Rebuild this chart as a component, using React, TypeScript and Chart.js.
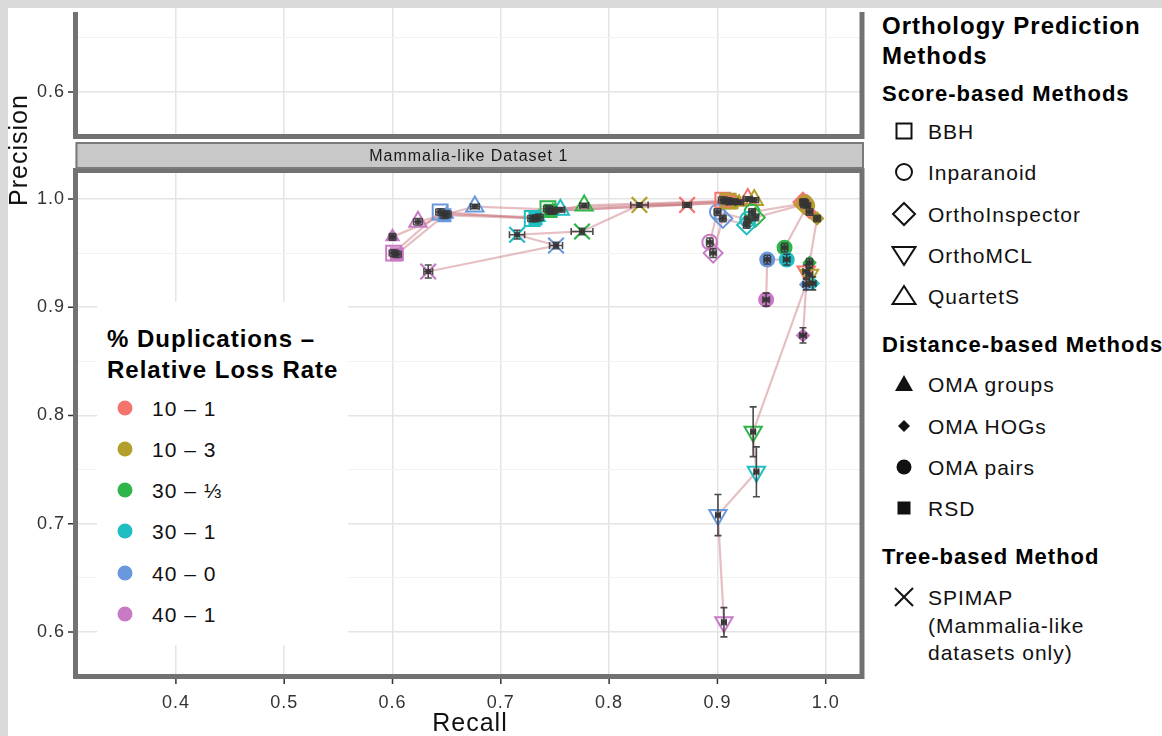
import React, { useEffect, useRef } from 'react';
import { Chart, registerables } from 'chart.js';

Chart.register(...registerables);

const FONT = '"Liberation Sans", Arial, Helvetica, sans-serif';

// ---------------- data ----------------
const conditions = ['10 – 1', '10 – 3', '30 – ⅓', '30 – 1', '40 – 0', '40 – 1'];
const conditionColors = ['#f2766e', '#b3a02c', '#2fb54a', '#1fbec3', '#6a98dc', '#c97ac4'];

const xTickValues = [0.4, 0.5, 0.6, 0.7, 0.8, 0.9, 1.0];
const yTickValues = [0.6, 0.65, 0.7, 0.75, 0.8, 0.85, 0.9, 0.95, 1.0];
const yTickValuesTop = [0.6, 0.65];

const recallBBH = [0.905, 0.91, 0.7435, 0.729, 0.644, 0.601];
const precisionBBH = [0.999, 0.998, 0.991, 0.982, 0.988, 0.95];
const recallErrBBH = [0.004, 0.004, 0.004, 0.004, 0.004, 0.004];
const precisionErrBBH = [0.003, 0.003, 0.003, 0.003, 0.003, 0.003];

const recallInparanoid = [0.98, 0.981, 0.932, 0.928, 0.9, 0.893];
const precisionInparanoid = [0.997, 0.996, 0.988, 0.981, 0.988, 0.96];
const recallErrInparanoid = [0.003, 0.003, 0.003, 0.003, 0.003, 0.003];
const precisionErrInparanoid = [0.003, 0.003, 0.003, 0.003, 0.003, 0.004];

const recallOrthoInspector = [0.979, 0.98, 0.935, 0.927, 0.905, 0.896];
const precisionOrthoInspector = [0.997, 0.995, 0.983, 0.976, 0.982, 0.95];
const recallErrOrthoInspector = [0.003, 0.003, 0.003, 0.003, 0.003, 0.003];
const precisionErrOrthoInspector = [0.003, 0.003, 0.003, 0.003, 0.003, 0.004];

const recallOrthoMCL = [0.982, 0.985, 0.933, 0.936, 0.9005, 0.906];
const precisionOrthoMCL = [0.933, 0.93, 0.785, 0.748, 0.708, 0.609];
const recallErrOrthoMCL = [0.003, 0.003, 0.002, 0.002, 0.002, 0.002];
const precisionErrOrthoMCL = [0.006, 0.006, 0.023, 0.023, 0.019, 0.0135];

const recallQuartetS = [0.928, 0.934, 0.777, 0.755, 0.676, 0.6235];
const precisionQuartetS = [1.0, 0.999, 0.994, 0.99, 0.993, 0.979];
const recallErrQuartetS = [0.004, 0.004, 0.004, 0.004, 0.004, 0.004];
const precisionErrQuartetS = [0.002, 0.002, 0.002, 0.002, 0.002, 0.003];

const recallOMAgroups = [0.915, 0.92, 0.748, 0.735, 0.65, 0.6];
const precisionOMAgroups = [0.998, 0.997, 0.989, 0.983, 0.986, 0.965];
const recallErrOMAgroups = [0.004, 0.004, 0.004, 0.004, 0.004, 0.003];
const precisionErrOMAgroups = [0.002, 0.002, 0.003, 0.003, 0.003, 0.003];

const recallOMAHOGs = [0.985, 0.992, 0.985, 0.988, 0.982, 0.979];
const precisionOMAHOGs = [0.988, 0.982, 0.941, 0.922, 0.921, 0.874];
const recallErrOMAHOGs = [0.003, 0.003, 0.003, 0.003, 0.003, 0.003];
const precisionErrOMAHOGs = [0.003, 0.003, 0.004, 0.006, 0.005, 0.007];

const recallOMApairs = [0.981, 0.983, 0.962, 0.964, 0.946, 0.945];
const precisionOMApairs = [0.996, 0.994, 0.955, 0.944, 0.944, 0.907];
const recallErrOMApairs = [0.003, 0.003, 0.003, 0.003, 0.003, 0.003];
const precisionErrOMApairs = [0.002, 0.002, 0.004, 0.005, 0.004, 0.006];

const recallRSD = [0.908, 0.913, 0.746, 0.732, 0.648, 0.604];
const precisionRSD = [0.998, 0.997, 0.989, 0.982, 0.985, 0.949];
const recallErrRSD = [0.004, 0.004, 0.004, 0.004, 0.004, 0.004];
const precisionErrRSD = [0.002, 0.002, 0.003, 0.003, 0.003, 0.003];

const recallSPIMAP = [0.872, 0.828, 0.775, 0.715, 0.751, 0.633];
const precisionSPIMAP = [0.9945, 0.9945, 0.97, 0.967, 0.957, 0.933];
const recallErrSPIMAP = [0.004, 0.008, 0.01, 0.007, 0.006, 0.004];
const precisionErrSPIMAP = [0.002, 0.002, 0.003, 0.004, 0.003, 0.006];

const methodTable = [
  { name: 'BBH', recall: recallBBH, precision: precisionBBH, rErr: recallErrBBH, pErr: precisionErrBBH },
  { name: 'Inparanoid', recall: recallInparanoid, precision: precisionInparanoid, rErr: recallErrInparanoid, pErr: precisionErrInparanoid },
  { name: 'OrthoInspector', recall: recallOrthoInspector, precision: precisionOrthoInspector, rErr: recallErrOrthoInspector, pErr: precisionErrOrthoInspector },
  { name: 'OrthoMCL', recall: recallOrthoMCL, precision: precisionOrthoMCL, rErr: recallErrOrthoMCL, pErr: precisionErrOrthoMCL },
  { name: 'QuartetS', recall: recallQuartetS, precision: precisionQuartetS, rErr: recallErrQuartetS, pErr: precisionErrQuartetS },
  { name: 'OMA groups', recall: recallOMAgroups, precision: precisionOMAgroups, rErr: recallErrOMAgroups, pErr: precisionErrOMAgroups },
  { name: 'OMA HOGs', recall: recallOMAHOGs, precision: precisionOMAHOGs, rErr: recallErrOMAHOGs, pErr: precisionErrOMAHOGs },
  { name: 'OMA pairs', recall: recallOMApairs, precision: precisionOMApairs, rErr: recallErrOMApairs, pErr: precisionErrOMApairs },
  { name: 'RSD', recall: recallRSD, precision: precisionRSD, rErr: recallErrRSD, pErr: precisionErrRSD },
  { name: 'SPIMAP', recall: recallSPIMAP, precision: precisionSPIMAP, rErr: recallErrSPIMAP, pErr: precisionErrSPIMAP },
];

// ---------------- styles ----------------
const methodStyle: Record<string, any> = {
  BBH: { pointStyle: 'rect', radius: 10.5, filled: false, rotation: 0 },
  Inparanoid: { pointStyle: 'circle', radius: 7.5, filled: false, rotation: 0 },
  OrthoInspector: { pointStyle: 'rectRot', radius: 9.5, filled: false, rotation: 0 },
  OrthoMCL: { pointStyle: 'triangle', radius: 10, filled: false, rotation: 180 },
  QuartetS: { pointStyle: 'triangle', radius: 10, filled: false, rotation: 0 },
  'OMA groups': { pointStyle: 'triangle', radius: 7, filled: true, rotation: 0 },
  'OMA HOGs': { pointStyle: 'rectRot', radius: 6, filled: true, rotation: 0 },
  'OMA pairs': { pointStyle: 'circle', radius: 7, filled: true, rotation: 0 },
  RSD: { pointStyle: 'rect', radius: 8.5, filled: true, rotation: 0 },
  SPIMAP: { pointStyle: 'crossRot', radius: 11, filled: false, rotation: 0 },
};

const LINE_COLOR = 'rgba(200,112,122,0.45)';
const BORDER = '#727272';
const GRID_MAJOR = '#e4e4e4';
const GRID_MINOR = '#f2f2f2';
const TICK_TEXT = '#333';

const X_MIN = 0.3073, X_MAX = 1.0335;
const Y_MIN = 0.5589, Y_MAX = 1.0263, Y_MAX_TOP = 0.6776;

const isMajor = (v: number) => Math.abs(v * 10 - Math.round(v * 10)) < 1e-6;

function zeroPad(s: any) {
  s.paddingLeft = 0;
  s.paddingRight = 0;
  s.paddingTop = 0;
  s.paddingBottom = 0;
}

function panelPlugin(kind: 'top' | 'main') {
  return {
    id: 'panel_' + kind,
    beforeDraw(chart: any) {
      (chart.ctx as any).letterSpacing = '1px';
    },
    afterDraw(chart: any) {
      const { ctx, chartArea: a } = chart;
      ctx.save();
      ctx.strokeStyle = BORDER;
      ctx.lineWidth = 5;
      ctx.lineCap = 'butt';
      ctx.beginPath();
      if (kind === 'top') {
        ctx.moveTo(a.left, a.top + 4);
        ctx.lineTo(a.left, a.bottom);
        ctx.lineTo(a.right, a.bottom);
        ctx.lineTo(a.right, a.top + 4);
        ctx.stroke();
      } else {
        ctx.strokeRect(a.left, a.top, a.right - a.left, a.bottom - a.top);
        // strip
        const sTop = a.top - 27.5, sBot = a.top - 2.5;
        ctx.fillStyle = '#c8c8c8';
        ctx.fillRect(a.left, sTop, a.right - a.left + 1, sBot - sTop);
        ctx.strokeStyle = '#7a7a7a';
        ctx.lineWidth = 2;
        ctx.strokeRect(a.left + 1, sTop, a.right - a.left, sBot - sTop);
        ctx.fillStyle = '#1a1a1a';
        (ctx as any).letterSpacing = '1px';
        ctx.font = '16px ' + FONT;
        ctx.textAlign = 'center';
        ctx.textBaseline = 'middle';
        ctx.fillText('Mammalia-like Dataset 1', (a.left + a.right) / 2, (sTop + sBot) / 2 + 1);
      }
      // ticks
      ctx.strokeStyle = '#333';
      ctx.lineWidth = 1.5;
      ctx.beginPath();
      const yTicks = kind === 'top' ? yTickValuesTop : yTickValues;
      yTicks.filter(isMajor).forEach((v) => {
        const py = chart.scales.y.getPixelForValue(v);
        ctx.moveTo(a.left - 2.5, py);
        ctx.lineTo(a.left - 7.5, py);
      });
      if (kind === 'main') {
        xTickValues.forEach((v) => {
          const px = chart.scales.x.getPixelForValue(v);
          ctx.moveTo(px, a.bottom + 2.5);
          ctx.lineTo(px, a.bottom + 7.5);
        });
      }
      ctx.stroke();
      ctx.restore();
    },
  };
}

const errorBarPlugin = {
  id: 'errorBars',
  afterDatasetsDraw(chart: any) {
    const { ctx } = chart;
    const x = chart.scales.x, y = chart.scales.y;
    ctx.save();
    ctx.strokeStyle = 'rgba(55,55,55,0.9)';
    ctx.lineWidth = 1.6;
    methodTable.forEach((m) => {
      m.recall.forEach((r, i) => {
        const p = m.precision[i];
        const px = x.getPixelForValue(r), py = y.getPixelForValue(p);
        const x0 = x.getPixelForValue(r - m.rErr[i]), x1 = x.getPixelForValue(r + m.rErr[i]);
        const y0 = y.getPixelForValue(p - m.pErr[i]), y1 = y.getPixelForValue(p + m.pErr[i]);
        const cap = 3.5;
        ctx.beginPath();
        ctx.moveTo(x0, py); ctx.lineTo(x1, py);
        ctx.moveTo(x0, py - cap); ctx.lineTo(x0, py + cap);
        ctx.moveTo(x1, py - cap); ctx.lineTo(x1, py + cap);
        ctx.moveTo(px, y0); ctx.lineTo(px, y1);
        ctx.moveTo(px - cap, y0); ctx.lineTo(px + cap, y0);
        ctx.moveTo(px - cap, y1); ctx.lineTo(px + cap, y1);
        ctx.stroke();
        ctx.fillStyle = 'rgba(50,50,50,0.85)';
        ctx.fillRect(px - 3, py - 2.5, 6, 5);
      });
    });
    ctx.restore();
  },
};

function scaleX(showLabels: boolean, height: number) {
  return {
    type: 'linear',
    min: X_MIN,
    max: X_MAX,
    afterBuildTicks: (s: any) => { s.ticks = xTickValues.map((v) => ({ value: v })); },
    afterFit: (s: any) => { s.height = height; zeroPad(s); },
    ticks: {
      display: showLabels,
      autoSkip: false,
      maxRotation: 0,
      padding: 16,
      color: TICK_TEXT,
      font: { family: FONT, size: 18 },
      callback: (v: number) => v.toFixed(1),
    },
    grid: { color: GRID_MAJOR, lineWidth: 1.5, drawTicks: false },
    border: { display: false },
  };
}

function scaleY(min: number, max: number, ticks: number[]) {
  return {
    type: 'linear',
    min,
    max,
    afterBuildTicks: (s: any) => { s.ticks = ticks.map((v) => ({ value: v })); },
    afterFit: (s: any) => { s.width = 67.5; zeroPad(s); },
    ticks: {
      autoSkip: false,
      padding: 10.5,
      color: TICK_TEXT,
      font: { family: FONT, size: 18 },
      callback: (v: number) => (isMajor(v) ? v.toFixed(1) : ''),
    },
    grid: {
      color: (c: any) => (c.tick && isMajor(c.tick.value) ? GRID_MAJOR : GRID_MINOR),
      lineWidth: (c: any) => (c.tick && isMajor(c.tick.value) ? 1.5 : 1),
      drawTicks: false,
    },
    border: { display: false },
  };
}

function buildDatasets() {
  const lines = methodTable.map((m) => ({
    label: m.name + ' path',
    data: m.recall.map((r, i) => ({ x: r, y: m.precision[i] })),
    showLine: true,
    borderColor: LINE_COLOR,
    borderWidth: 2.2,
    pointRadius: 0,
    order: 3,
  }));
  const points = methodTable.map((m) => {
    const st = methodStyle[m.name];
    return {
      label: m.name,
      data: m.recall.map((r, i) => ({ x: r, y: m.precision[i] })),
      showLine: false,
      pointStyle: st.pointStyle,
      pointRadius: st.radius,
      pointRotation: st.rotation,
      pointBorderColor: conditionColors,
      pointBackgroundColor: st.filled ? conditionColors : 'rgba(0,0,0,0)',
      pointBorderWidth: st.pointStyle === 'crossRot' ? 2.2 : 2,
      order: 1,
    };
  });
  return [...lines, ...points];
}

// ---------------- legend pieces ----------------
function Sym({ kind, cx, cy, color = '#111' }: { kind: string; cx: number; cy: number; color?: string }) {
  const s = 26;
  let el: any = null;
  const sw = 2;
  switch (kind) {
    case 'square': el = <rect x={5.5} y={5.5} width={15} height={15} fill="none" stroke={color} strokeWidth={sw} />; break;
    case 'circle': el = <circle cx={13} cy={13} r={8} fill="none" stroke={color} strokeWidth={sw} />; break;
    case 'diamond': el = <polygon points="13,2 24,13 13,24 2,13" fill="none" stroke={color} strokeWidth={sw} />; break;
    case 'down': el = <polygon points="1.5,5 24.5,5 13,23" fill="none" stroke={color} strokeWidth={sw} />; break;
    case 'up': el = <polygon points="13,3 24.5,21 1.5,21" fill="none" stroke={color} strokeWidth={sw} />; break;
    case 'ftri': el = <polygon points="13,4 22,20 4,20" fill={color} />; break;
    case 'fdiamond': el = <polygon points="13,7 19,13 13,19 7,13" fill={color} />; break;
    case 'fcircle': el = <circle cx={13} cy={13} r={7.5} fill={color} />; break;
    case 'fsquare': el = <rect x={6.5} y={6.5} width={13} height={13} fill={color} />; break;
    case 'x': el = <path d="M4,4 L22,22 M22,4 L4,22" stroke={color} strokeWidth={sw} fill="none" />; break;
    case 'dot': el = <circle cx={13} cy={13} r={7.5} fill={color} />; break;
  }
  return (
    <svg width={s} height={s} style={{ position: 'absolute', left: cx - 8 - s / 2, top: cy - 8 - s / 2 }}>
      {el}
    </svg>
  );
}

function Txt({ x, y, size, bold, children, spacing = 1 }: any) {
  const lh = Math.round(size * 1.3);
  return (
    <div
      style={{
        position: 'absolute',
        left: x - 8,
        top: y - 8 - lh / 2,
        lineHeight: lh + 'px',
        fontSize: size,
        fontWeight: bold ? 700 : 400,
        letterSpacing: spacing + 'px',
        whiteSpace: 'nowrap',
        color: bold ? '#000' : '#111',
        fontFamily: FONT,
      }}
    >
      {children}
    </div>
  );
}

const legendMethodKinds: Record<string, string> = {
  BBH: 'square', Inparanoid: 'circle', OrthoInspector: 'diamond', OrthoMCL: 'down', QuartetS: 'up',
  'OMA groups': 'ftri', 'OMA HOGs': 'fdiamond', 'OMA pairs': 'fcircle', RSD: 'fsquare', SPIMAP: 'x',
};
const scoreMethods = ['BBH', 'Inparanoid', 'OrthoInspector', 'OrthoMCL', 'QuartetS'];
const distanceMethods = ['OMA groups', 'OMA HOGs', 'OMA pairs', 'RSD'];

export default function App() {
  const topRef = useRef<HTMLCanvasElement>(null);
  const mainRef = useRef<HTMLCanvasElement>(null);

  useEffect(() => {
    document.documentElement.style.overflow = 'hidden';
    document.body.style.margin = '8px 0 0 8px';
    document.body.style.background = '#dadada';

    const top = new Chart(topRef.current as HTMLCanvasElement, {
      type: 'scatter',
      data: { datasets: [] },
      options: {
        animation: false,
        responsive: false,
        events: [],
        layout: { autoPadding: false, padding: { left: 0, right: 8, top: 0, bottom: 3.5 } },
        plugins: { legend: { display: false }, tooltip: { enabled: false } },
        scales: { x: scaleX(false, 0) as any, y: scaleY(Y_MIN, Y_MAX_TOP, yTickValuesTop) as any },
      },
      plugins: [panelPlugin('top')],
    } as any);

    const main = new Chart(mainRef.current as HTMLCanvasElement, {
      type: 'scatter',
      data: { datasets: buildDatasets() as any },
      options: {
        animation: false,
        responsive: false,
        events: [],
        layout: { autoPadding: false, padding: { left: 0, right: 8, top: 30.5, bottom: 0 } },
        plugins: { legend: { display: false }, tooltip: { enabled: false } },
        scales: { x: scaleX(true, 59.5) as any, y: scaleY(Y_MIN, Y_MAX, yTickValues) as any },
      },
      plugins: [panelPlugin('main'), errorBarPlugin],
    } as any);

    return () => {
      top.destroy();
      main.destroy();
    };
  }, []);

  const itemY1 = [131, 172, 214, 255, 296];
  const itemY2 = [384, 426, 467, 508];
  const condY = [408, 449, 490, 531, 573, 614];

  return (
    <div style={{ position: 'relative', width: 1154, height: 728, background: '#fff', overflow: 'hidden', fontFamily: FONT }}>
      <canvas ref={topRef} width={862} height={132} style={{ position: 'absolute', left: 0, top: 0, width: 862, height: 132 }} />
      <canvas ref={mainRef} width={862} height={596} style={{ position: 'absolute', left: 0, top: 132, width: 862, height: 596 }} />

      {/* axis titles */}
      <div style={{ position: 'absolute', left: 470 - 8 - 100, top: 722 - 8 - 15, width: 200, textAlign: 'center', fontSize: 25, lineHeight: '30px', letterSpacing: '1px', color: '#111' }}>Recall</div>
      <div style={{ position: 'absolute', left: 18 - 8 - 100, top: 150 - 8 - 15, width: 200, textAlign: 'center', fontSize: 25, lineHeight: '30px', letterSpacing: '1px', color: '#111', transform: 'rotate(-90deg)' }}>Precision</div>

      {/* inner legend */}
      <div style={{ position: 'absolute', left: 97 - 8, top: 302 - 8, width: 251, height: 343, background: '#fff' }} />
      <Txt x={107} y={338} size={24} bold>% Duplications –</Txt>
      <Txt x={107} y={369} size={24} bold>Relative Loss Rate</Txt>
      {conditions.map((c, i) => (
        <React.Fragment key={c}>
          <Sym kind="dot" cx={125} cy={condY[i]} color={conditionColors[i]} />
          <Txt x={152} y={condY[i]} size={21}>{c}</Txt>
        </React.Fragment>
      ))}

      {/* right legend */}
      <Txt x={882} y={25} size={24} bold>Orthology Prediction</Txt>
      <Txt x={882} y={55} size={24} bold>Methods</Txt>
      <Txt x={882} y={93} size={22} bold>Score-based Methods</Txt>
      {scoreMethods.map((m, i) => (
        <React.Fragment key={m}>
          <Sym kind={legendMethodKinds[m]} cx={904} cy={itemY1[i]} />
          <Txt x={928} y={itemY1[i]} size={21}>{m}</Txt>
        </React.Fragment>
      ))}
      <Txt x={882} y={344} size={22} bold>Distance-based Methods</Txt>
      {distanceMethods.map((m, i) => (
        <React.Fragment key={m}>
          <Sym kind={legendMethodKinds[m]} cx={904} cy={itemY2[i]} />
          <Txt x={928} y={itemY2[i]} size={21}>{m}</Txt>
        </React.Fragment>
      ))}
      <Txt x={882} y={556} size={22} bold>Tree-based Method</Txt>
      <Sym kind={legendMethodKinds['SPIMAP']} cx={904} cy={597} />
      <Txt x={928} y={597} size={21}>SPIMAP</Txt>
      <Txt x={928} y={625} size={21}>(Mammalia-like</Txt>
      <Txt x={928} y={652} size={21}>datasets only)</Txt>
    </div>
  );
}
